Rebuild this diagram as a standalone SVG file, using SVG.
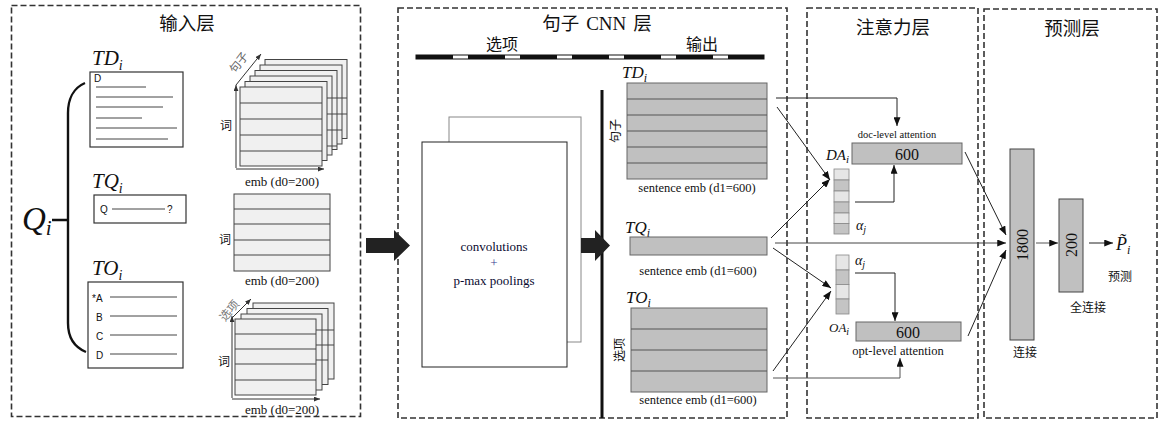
<svg xmlns="http://www.w3.org/2000/svg" width="1170" height="428" viewBox="0 0 1170 428">
<defs>
<style>
.panel{fill:none;stroke:#333;stroke-width:1.6;stroke-dasharray:6,3}
.cjk{font-family:"Noto Sans CJK SC","Noto Sans",sans-serif;fill:#111}
.title{font-size:18.5px;text-anchor:middle}
.ser{font-family:"Liberation Serif","DejaVu Serif",serif;fill:#111}
.math{font-family:"Liberation Serif","DejaVu Serif",serif;font-style:italic;fill:#111}
.page{fill:#f0f0f0;stroke:#444;stroke-width:1}
.row{stroke:#444;stroke-width:1}
.gbox{fill:#c0c0c0;stroke:#666;stroke-width:1}
.grow{stroke:#555;stroke-width:1}
.doc{fill:#fff;stroke:#333;stroke-width:1.2}
.dline{stroke:#444;stroke-width:1}
.ax{stroke:#333;stroke-width:1;fill:none}
.conn{stroke:#222;stroke-width:1;fill:none}
.light{fill:#e6e6e6;stroke:#888;stroke-width:0.8}
.dark{fill:#c4c4c4;stroke:#888;stroke-width:0.8}
.sm{font-family:"Liberation Sans","DejaVu Sans",sans-serif;fill:#111;font-size:10px}
</style>
<marker id="ah" viewBox="0 0 10 8" refX="10" refY="4" markerWidth="9" markerHeight="7" markerUnits="userSpaceOnUse" orient="auto">
<path d="M0,0 L10,4 L0,8 Z" fill="#111"/>
</marker>
<marker id="ahs" viewBox="0 0 10 8" refX="10" refY="4" markerWidth="6" markerHeight="5" markerUnits="userSpaceOnUse" orient="auto">
<path d="M0,0 L10,4 L0,8 Z" fill="#333"/>
</marker>
</defs>
<rect width="1170" height="428" fill="#fff"/>

<!-- Panels -->
<g id="panel-input">
<rect class="panel" x="11.5" y="5.5" width="349" height="411"/>
<text class="cjk title" x="187" y="30">输入层</text>
</g>
<g id="panel-cnn">
<rect class="panel" x="398" y="8" width="389" height="410"/>
<text class="title" x="597" y="30"><tspan class="cjk">句子</tspan><tspan class="ser" font-size="19" dx="7">CNN</tspan><tspan class="cjk" dx="7">层</tspan></text>
<text class="cjk" x="502" y="50" font-size="16" text-anchor="middle">选项</text>
<text class="cjk" x="702" y="50" font-size="16" text-anchor="middle">输出</text>
<rect x="416" y="55" width="348" height="4" fill="#fff" stroke="#111" stroke-width="1"/>
<line x1="416" y1="57" x2="764" y2="57" stroke="#111" stroke-width="4" stroke-dasharray="37,15"/>
<line x1="602" y1="90" x2="602" y2="418" stroke="#111" stroke-width="3"/>
</g>
<g id="panel-attention">
<rect class="panel" x="807" y="8" width="171" height="410"/>
<text class="cjk title" x="893" y="34">注意力层</text>
</g>
<g id="panel-predict">
<rect class="panel" x="984" y="9" width="173" height="409"/>
<text class="cjk title" x="1072" y="35">预测层</text>
</g>

<!-- Input layer nodes -->
<g id="node-Qi">
<text class="math" x="22" y="230" font-size="33">Q<tspan font-size="21" dy="5">i</tspan></text>
<path d="M52 220 L68 220 M85 83 C73 88 68 100 68 113 L68 323 C68 337 74 347 86 352" fill="none" stroke="#111" stroke-width="2.4"/>
</g>
<g id="node-TDi">
<text class="math" x="92" y="65" font-size="21">TD<tspan font-size="14" dy="5">i</tspan></text>
<rect class="doc" x="90" y="72" width="93" height="75"/>
<text class="sm" x="94" y="82" font-size="8">D</text>
<line class="dline" x1="96" y1="87" x2="146" y2="87"/>
<line class="dline" x1="96" y1="97" x2="173" y2="97"/>
<line class="dline" x1="96" y1="107" x2="163" y2="107"/>
<line class="dline" x1="96" y1="118" x2="142" y2="118"/>
<line class="dline" x1="96" y1="128" x2="177" y2="128"/>
<line class="dline" x1="96" y1="139" x2="168" y2="139"/>
</g>
<g id="node-TQi">
<text class="math" x="92" y="188" font-size="21">TQ<tspan font-size="14" dy="5">i</tspan></text>
<rect class="doc" x="94" y="195" width="92" height="28"/>
<text class="sm" x="100" y="213" font-size="9">Q</text>
<line class="dline" x1="112" y1="209" x2="165" y2="209"/>
<text class="sm" x="167" y="213" font-size="9">?</text>
</g>
<g id="node-TOi">
<text class="math" x="92" y="275" font-size="21">TO<tspan font-size="14" dy="5">i</tspan></text>
<rect class="doc" x="88" y="282" width="95" height="86"/>
<text class="sm" x="92" y="302" font-size="10">*A</text>
<text class="sm" x="96" y="321" font-size="10">B</text>
<text class="sm" x="96" y="340" font-size="10">C</text>
<text class="sm" x="96" y="359" font-size="10">D</text>
<line class="dline" x1="110" y1="297" x2="177" y2="297"/>
<line class="dline" x1="110" y1="316" x2="177" y2="316"/>
<line class="dline" x1="110" y1="335" x2="177" y2="335"/>
<line class="dline" x1="110" y1="354" x2="177" y2="354"/>
</g>
<g id="node-doc-emb">
<rect class="page" x="265" y="59.5" width="82" height="79"/>
<rect class="page" x="260" y="65" width="82" height="79"/>
<rect class="page" x="255" y="70.5" width="82" height="79"/>
<rect class="page" x="250" y="76" width="82" height="79"/>
<rect class="page" x="245" y="81.5" width="82" height="79"/>
<line class="row" x1="327" y1="98" x2="347" y2="98"/>
<line class="row" x1="327" y1="114" x2="347" y2="114"/>
<line class="row" x1="327" y1="130" x2="342" y2="130"/>
<line class="row" x1="327" y1="146" x2="337" y2="146"/>
<rect class="page" x="240" y="87" width="82" height="79"/>
<line class="row" x1="240" y1="103" x2="322" y2="103"/>
<line class="row" x1="240" y1="119" x2="322" y2="119"/>
<line class="row" x1="240" y1="135" x2="322" y2="135"/>
<line class="row" x1="240" y1="151" x2="322" y2="151"/>
<line class="ax" x1="236" y1="168" x2="236" y2="85" marker-end="url(#ahs)"/>
<line class="ax" x1="236" y1="169" x2="324" y2="169" marker-end="url(#ahs)"/>
<line class="ax" x1="236" y1="85" x2="261" y2="54" marker-end="url(#ahs)"/>
<text class="cjk" x="0" y="0" font-size="11.5" style="fill:#666" transform="translate(235,74) rotate(-52)">句子</text>
<text class="cjk" x="220" y="130" font-size="12">词</text>
<text class="ser" x="282" y="186" font-size="13" text-anchor="middle">emb (d0=200)</text>
</g>
<g id="node-q-emb">
<rect class="page" x="234" y="194" width="96" height="77"/>
<line class="row" x1="234" y1="209" x2="330" y2="209"/>
<line class="row" x1="234" y1="224" x2="330" y2="224"/>
<line class="row" x1="234" y1="240" x2="330" y2="240"/>
<line class="row" x1="234" y1="255" x2="330" y2="255"/>
<text class="cjk" x="219" y="244" font-size="12">词</text>
<text class="ser" x="282" y="285" font-size="13" text-anchor="middle">emb (d0=200)</text>
</g>
<g id="node-opt-emb">
<rect class="page" x="253" y="303" width="81" height="76"/>
<rect class="page" x="247" y="308.5" width="81" height="76"/>
<rect class="page" x="241" y="314" width="81" height="76"/>
<line class="row" x1="316" y1="330" x2="334" y2="330"/>
<line class="row" x1="316" y1="345" x2="334" y2="345"/>
<line class="row" x1="316" y1="360" x2="328" y2="360"/>
<rect class="page" x="235" y="319" width="81" height="76"/>
<line class="row" x1="235" y1="334" x2="316" y2="334"/>
<line class="row" x1="235" y1="349" x2="316" y2="349"/>
<line class="row" x1="235" y1="364" x2="316" y2="364"/>
<line class="row" x1="235" y1="380" x2="316" y2="380"/>
<line class="ax" x1="232" y1="398" x2="232" y2="316" marker-end="url(#ahs)"/>
<line class="ax" x1="232" y1="399" x2="320" y2="399" marker-end="url(#ahs)"/>
<line class="ax" x1="232" y1="318" x2="251" y2="299" marker-end="url(#ahs)"/>
<text class="cjk" x="0" y="0" font-size="11.5" style="fill:#777" transform="translate(225,322) rotate(-50)">选项</text>
<text class="cjk" x="218" y="366" font-size="12">词</text>
<text class="ser" x="282" y="414" font-size="13" text-anchor="middle">emb (d0=200)</text>
</g>

<!-- CNN layer -->
<g id="node-cnn">
<rect x="449" y="117" width="132" height="225" fill="#fff" stroke="#888" stroke-width="1"/>
<rect x="422" y="142" width="145" height="225" fill="#fff" stroke="#222" stroke-width="1"/>
<text class="ser" x="494" y="251" font-size="13" text-anchor="middle" style="fill:#0a0a30">convolutions</text>
<text class="ser" x="494" y="267" font-size="13" text-anchor="middle" style="fill:#3a3a90">+</text>
<text class="ser" x="494" y="285" font-size="13" text-anchor="middle" style="fill:#0a0a30">p-max poolings</text>
</g>
<g id="node-TD-out">
<text class="math" x="622" y="78" font-size="17">TD<tspan font-size="12" dy="4">i</tspan></text>
<rect class="gbox" x="627" y="83" width="140" height="96"/>
<line class="grow" x1="627" y1="99" x2="767" y2="99"/>
<line class="grow" x1="627" y1="115" x2="767" y2="115"/>
<line class="grow" x1="627" y1="131" x2="767" y2="131"/>
<line class="grow" x1="627" y1="147" x2="767" y2="147"/>
<line class="grow" x1="627" y1="163" x2="767" y2="163"/>
<text class="cjk" x="0" y="0" font-size="12" text-anchor="middle" transform="translate(620,131) rotate(-90)">句子</text>
<text class="ser" x="697" y="192" font-size="12.5" text-anchor="middle">sentence emb (d1=600)</text>
</g>
<g id="node-TQ-out">
<text class="math" x="625" y="233" font-size="17">TQ<tspan font-size="12" dy="4">i</tspan></text>
<rect class="gbox" x="630" y="237" width="137" height="18"/>
<text class="ser" x="698" y="275" font-size="12.5" text-anchor="middle">sentence emb (d1=600)</text>
</g>
<g id="node-TO-out">
<text class="math" x="626" y="303" font-size="17">TO<tspan font-size="12" dy="4">i</tspan></text>
<rect class="gbox" x="631" y="308" width="136" height="84"/>
<line class="grow" x1="631" y1="329" x2="767" y2="329"/>
<line class="grow" x1="631" y1="350" x2="767" y2="350"/>
<line class="grow" x1="631" y1="371" x2="767" y2="371"/>
<text class="cjk" x="0" y="0" font-size="12" text-anchor="middle" transform="translate(624,350) rotate(-90)">选项</text>
<text class="ser" x="698" y="404" font-size="12.5" text-anchor="middle">sentence emb (d1=600)</text>
</g>

<!-- Attention layer -->
<g id="node-doc-att">
<text class="ser" x="897" y="138" font-size="10.5" text-anchor="middle">doc-level attention</text>
<rect class="gbox" x="852" y="143" width="110" height="21"/>
<text class="ser" x="907" y="160" font-size="16" text-anchor="middle">600</text>
<text class="math" x="826" y="160" font-size="15">DA<tspan font-size="11" dy="3">i</tspan></text>
</g>
<g id="node-DA-vec">
<rect class="light" x="834" y="169" width="15" height="11"/>
<rect class="dark" x="834" y="180" width="15" height="11"/>
<rect class="light" x="834" y="191" width="15" height="11"/>
<rect class="dark" x="834" y="202" width="15" height="11"/>
<rect class="light" x="834" y="213" width="15" height="10.5"/>
<rect class="dark" x="834" y="223.5" width="15" height="10.5"/>
<text class="math" x="856" y="230" font-size="14">α<tspan font-size="10" dy="3">j</tspan></text>
</g>
<g id="node-OA-vec">
<rect class="light" x="836" y="255" width="13" height="15"/>
<rect class="dark" x="836" y="270" width="13" height="14.5"/>
<rect class="light" x="836" y="284.5" width="13" height="14.5"/>
<rect class="dark" x="836" y="299" width="13" height="15"/>
<text class="math" x="855" y="265" font-size="14">α<tspan font-size="10" dy="3">j</tspan></text>
</g>
<g id="node-opt-att">
<text class="math" x="829" y="332" font-size="13">OA<tspan font-size="10" dy="3">i</tspan></text>
<rect class="gbox" x="856" y="322" width="105" height="19"/>
<text class="ser" x="908" y="338" font-size="16" text-anchor="middle">600</text>
<text class="ser" x="898" y="355" font-size="12.5" text-anchor="middle">opt-level attention</text>
</g>

<!-- Prediction layer -->
<g id="node-1800">
<rect class="gbox" x="1010" y="149" width="24" height="191" style="stroke:#444"/>
<text class="ser" x="0" y="0" font-size="16" text-anchor="middle" transform="translate(1028,245) rotate(-90)">1800</text>
<text class="cjk" x="1025" y="357" font-size="12" text-anchor="middle">连接</text>
</g>
<g id="node-200">
<rect class="gbox" x="1059" y="199" width="24" height="93" style="stroke:#444"/>
<text class="ser" x="0" y="0" font-size="16" text-anchor="middle" transform="translate(1077,245) rotate(-90)">200</text>
<text class="cjk" x="1088" y="312" font-size="12" text-anchor="middle">全连接</text>
</g>
<g id="node-Pi">
<text class="math" x="1116" y="250" font-size="18">P̃<tspan font-size="12" dy="4">i</tspan></text>
<text class="cjk" x="1120" y="281" font-size="12" text-anchor="middle">预测</text>
</g>

<!-- Connectors -->
<g id="connectors">
<polygon points="366,238 394,238 394,230 410,245.5 394,261 394,253 366,253" fill="#222"/>
<polygon points="581,238 595,238 595,230 610,245.5 595,261 595,253 581,253" fill="#222"/>
<path class="conn" d="M776 98 L897 98 L897 126" marker-end="url(#ah)"/>
<line class="conn" x1="777" y1="107" x2="830" y2="180" marker-end="url(#ah)"/>
<line class="conn" x1="771" y1="238" x2="830" y2="179" marker-end="url(#ah)"/>
<path class="conn" d="M855 202 L894 202 L894 165" marker-end="url(#ah)"/>
<line class="conn" x1="775" y1="243" x2="1006" y2="243" marker-end="url(#ah)" style="stroke:#444"/>
<line class="conn" x1="965" y1="152" x2="1006" y2="235" marker-end="url(#ah)"/>
<line class="conn" x1="968" y1="336" x2="1006" y2="250" marker-end="url(#ah)"/>
<line class="conn" x1="773" y1="248" x2="831" y2="288" marker-end="url(#ah)"/>
<line class="conn" x1="773" y1="371" x2="831" y2="291" marker-end="url(#ah)"/>
<path class="conn" d="M855 273 L895 273 L895 321" marker-end="url(#ah)"/>
<path class="conn" d="M773 378 L900 378 L900 358" marker-end="url(#ah)" style="stroke:#555"/>
<line class="conn" x1="1036" y1="243" x2="1058" y2="243" marker-end="url(#ah)" style="stroke:#555"/>
<line class="conn" x1="1089" y1="243" x2="1113" y2="243" marker-end="url(#ah)"/>
</g>
</svg>
